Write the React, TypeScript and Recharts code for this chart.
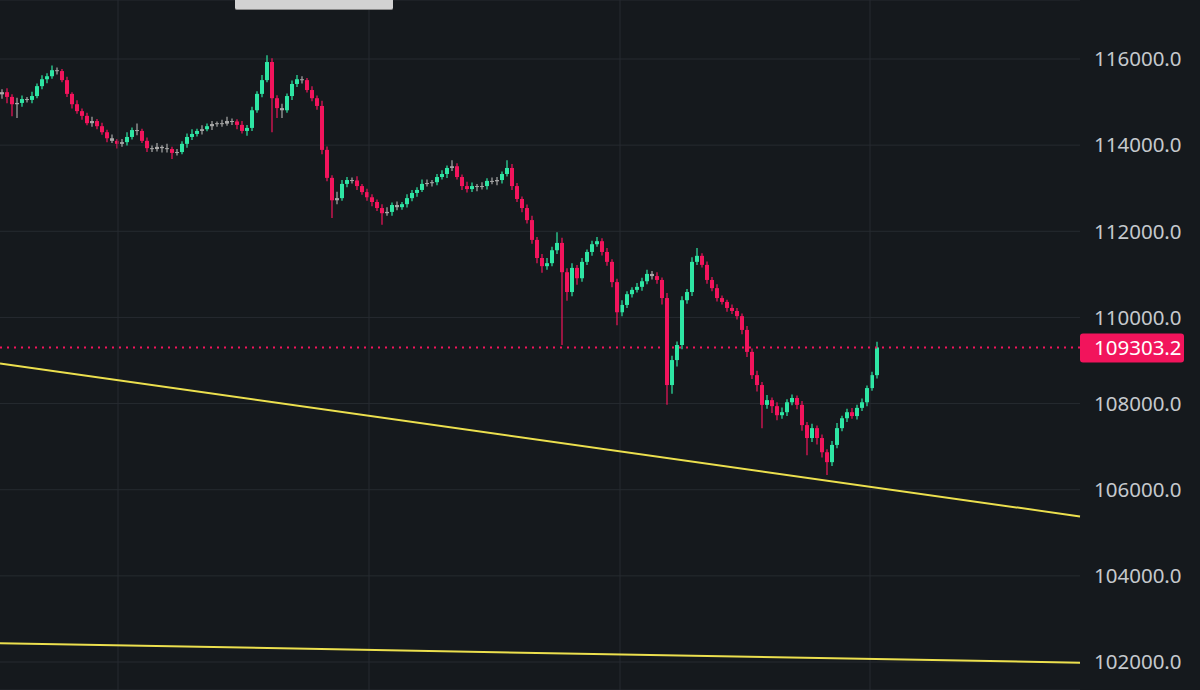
import { ComposedChart, Bar, XAxis, YAxis, CartesianGrid, ReferenceLine } from "recharts"

// closing prices, one candle every ~5px of the original chart
const closes = [
  115230, 115120, 114950, 114980, 115070, 115050, 115140, 115370, 115530, 115600,
  115740, 115720, 115510, 115190, 114950, 114790, 114680, 114510, 114560, 114440,
  114300, 114160, 114100, 114030, 114070, 114190, 114350, 114330, 114100, 113930,
  113910, 113960, 113930, 113910, 113820, 113840, 114030, 114190, 114260, 114330,
  114370, 114440, 114490, 114510, 114500, 114560, 114550, 114470, 114330, 114400,
  114810, 115190, 115510, 115930, 115090, 114860, 114810, 115140, 115420, 115530,
  115510, 115280, 115090, 114910, 113890, 113240, 112720, 112770, 113100, 113190,
  113180, 113050, 112910, 112790, 112680, 112540, 112420, 112450, 112610, 112560,
  112630, 112770, 112890, 112960, 113100, 113120, 113140, 113260, 113330, 113470,
  113510, 113260, 113050, 112980, 113050, 113030, 113050, 113170, 113160, 113190,
  113330, 113470, 113050, 112750, 112540, 112260, 111800, 111380, 111190, 111260,
  111560, 111730, 111050, 110590, 111150, 110910, 111290, 111520, 111700, 111770,
  111520, 111290, 110820, 110120, 110290, 110540, 110640, 110710, 110840, 111010,
  110960, 110870, 110450, 108430, 109010, 109360, 110400, 110590, 111290, 111430,
  111220, 110870, 110680, 110450, 110360, 110220, 110150, 110030, 109710, 109200,
  108660, 108430, 107970, 108080, 107940, 107730, 107800, 108030, 108130, 107970,
  107500, 107200, 107430, 107200, 106870, 106640, 107040, 107430, 107660, 107800,
  107710, 107900, 108030, 108360, 108660, 109303.2,
]

// wick lengths above the body top / below the body bottom
const upperWicks = [
  70, 90, 60, 120, 80, 50, 100, 60, 90, 70,
  110, 60, 50, 80, 40, 90, 60, 70, 100, 50,
  80, 60, 90, 40, 70, 110, 60, 150, 50, 80,
  60, 90, 40, 100, 50, 70, 60, 80, 110, 50,
  90, 60, 70, 40, 80, 100, 60, 50, 90, 70,
  80, 60, 120, 160, 90, 70, 100, 60, 80, 100,
  70, 50, 90, 60, 120, 80, 60, 150, 90, 70,
  60, 100, 50, 80, 70, 60, 90, 110, 60, 80,
  50, 90, 70, 60, 100, 80, 50, 70, 90, 60,
  140, 70, 60, 100, 80, 50, 90, 60, 80, 70,
  60, 180, 90, 70, 60, 80, 100, 70, 90, 120,
  80, 250, 120, 90, 110, 70, 90, 60, 80, 100,
  70, 90, 60, 80, 110, 70, 60, 90, 80, 100,
  70, 90, 60, 120, 100, 80, 90, 70, 110, 180,
  60, 80, 70, 90, 60, 50, 80, 70, 60, 90,
  80, 100, 70, 120, 60, 90, 110, 70, 80, 60,
  90, 70, 100, 60, 80, 70, 90, 120, 60, 80,
  100, 70, 90, 60, 80, 130,
]
const lowerWicks = [
  100, 150, 280, 320, 90, 60, 80, 50, 70, 90,
  60, 80, 50, 70, 100, 60, 90, 50, 80, 70,
  60, 90, 50, 110, 70, 80, 60, 100, 50, 90,
  70, 60, 100, 80, 140, 60, 50, 90, 70, 60,
  80, 50, 90, 60, 70, 50, 80, 100, 60, 110,
  70, 60, 80, 50, 790, 230, 180, 60, 90, 70,
  80, 60, 70, 90, 100, 80, 410, 90, 60, 80,
  70, 90, 60, 80, 100, 70, 270, 60, 90, 70,
  60, 80, 70, 90, 50, 60, 80, 70, 60, 90,
  70, 60, 90, 80, 70, 100, 60, 80, 70, 90,
  80, 60, 90, 70, 100, 80, 90, 120, 150, 80,
  70, 90, 1690, 200, 100, 150, 80, 70, 90, 60,
  80, 90, 120, 300, 90, 70, 80, 60, 90, 70,
  80, 90, 150, 460, 200, 150, 100, 80, 90, 70,
  60, 90, 70, 80, 60, 90, 70, 80, 100, 120,
  90, 150, 540, 90, 160, 120, 80, 90, 70, 100,
  130, 400, 90, 150, 120, 300, 90, 80, 70, 90,
  60, 80, 70, 90, 60, 80,
]

const firstOpen = 115180
const lastPrice = 109303.2
const priceTicks = [102000, 104000, 106000, 108000, 110000, 112000, 114000, 116000]
const timeGrid = [23.6, 73.8, 124, 174]
const upperTrend = [108930, 105380]
const lowerTrend = [102435, 101985]
const xDomain = [0, 216]
const yDomain = [101350, 117370]

const BG = "#15191d"
const GRID = "#262b30"
const UP = "#2ee6a4"
const DOWN = "#f2145c"
const FLAT = "#a8a8a8"
const TREND = "#ece04e"

const candles = closes.map((close, i) => {
  const open = i === 0 ? firstOpen : closes[i - 1]
  const high = Math.max(open, close) + upperWicks[i]
  const low = Math.min(open, close) - lowerWicks[i]
  return { t: i + 0.5, open, close, high, low, range: [low, high] }
})

function Candle(props: any) {
  const { x, y, width, height, payload } = props
  if (!payload || height == null) return null
  const top = Math.min(y, y + height)
  const h = Math.abs(height)
  const { open, close, high, low } = payload
  const toY = (v: number) => top + ((high - v) / (high - low || 1)) * h
  const cx = x + width / 2
  const bodyTop = toY(Math.max(open, close))
  const bodyBot = toY(Math.min(open, close))
  const diff = Math.abs(close - open)
  const color = diff < 70 ? FLAT : close > open ? UP : DOWN
  return (
    <g>
      <line x1={cx} x2={cx} y1={top} y2={top + h} stroke={color} strokeWidth={1.2} />
      <rect x={cx - 2} y={bodyTop} width={4} height={Math.max(1, bodyBot - bodyTop)} fill={color} />
    </g>
  )
}

function PriceTag(props: any) {
  const vb = props.viewBox
  if (!vb) return null
  const x = vb.x + vb.width
  const y = vb.y
  return (
    <g>
      <rect x={x} y={y - 14} width={104} height={29} rx={3} fill={DOWN} />
      <text x={x + 14} y={y} dy="0.36em" fill="#ffffff" fontSize={20.5} fontFamily="Noto Sans">
        {lastPrice.toFixed(1)}
      </text>
    </g>
  )
}

export default function App() {
  return (
    <div style={{ position: "absolute", left: 0, top: 0, width: 1200, height: 690, background: BG, overflow: "hidden" }}>
      <ComposedChart width={1200} height={690} data={candles} margin={{ top: 0, right: 0, bottom: 0, left: 0 }}>
        <CartesianGrid vertical={false} stroke={GRID} />
        <XAxis type="number" dataKey="t" domain={xDomain} hide allowDataOverflow />
        <YAxis
          orientation="right"
          width={120}
          domain={yDomain}
          ticks={priceTicks}
          interval={0}
          allowDataOverflow
          axisLine={false}
          tickLine={false}
          tickSize={0}
          tickMargin={14}
          tick={{ fill: "#c5c9cd", fontSize: 20.5, fontFamily: "Noto Sans" }}
          tickFormatter={(v: number) => v.toFixed(1)}
        />
        {timeGrid.map((t) => (
          <ReferenceLine key={t} x={t} stroke={GRID} strokeWidth={1} />
        ))}
        <ReferenceLine
          segment={[{ x: xDomain[0], y: upperTrend[0] }, { x: xDomain[1], y: upperTrend[1] }]}
          stroke={TREND}
          strokeWidth={2}
        />
        <ReferenceLine
          segment={[{ x: xDomain[0], y: lowerTrend[0] }, { x: xDomain[1], y: lowerTrend[1] }]}
          stroke={TREND}
          strokeWidth={2}
        />
        <ReferenceLine
          y={lastPrice}
          stroke={DOWN}
          strokeWidth={2}
          strokeDasharray="2 5"
          label={(p: any) => <PriceTag {...p} />}
        />
        <Bar dataKey="range" barSize={4} shape={(p: any) => <Candle {...p} />} isAnimationActive={false} />
      </ComposedChart>
      <div
        style={{
          position: "absolute",
          left: 235,
          top: 0,
          width: 158,
          height: 9,
          background: "#d2d2d2",
          borderBottom: "1px solid #8a8a8a",
          borderRadius: "0 0 2px 2px",
        }}
      />
    </div>
  )
}
